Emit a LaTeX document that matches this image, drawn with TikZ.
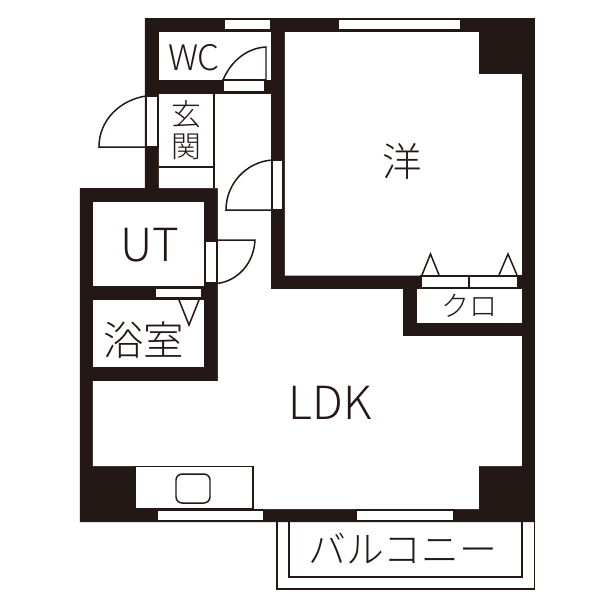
\documentclass[tikz,border=0pt]{standalone}
\usepackage{fontspec}
\setmainfont{Noto Sans CJK JP}[UprightFont=* Light]
\definecolor{ink}{HTML}{231815}
\tikzset{
  wall/.style={fill=ink,draw=none},
  room/.style={fill=white,draw=none},
  pane/.style={fill=white,draw=ink,line width=0.6pt},
  thin/.style={draw=ink,line width=0.85pt},
  label/.style={text=ink,inner sep=0pt}
}
\begin{document}
\begin{tikzpicture}[x=0.02cm,y=-0.02cm]
  \useasboundingbox (0,0) rectangle (600,600);
  % balcony
  \draw[thin] (277,522) -- (277,589) -- (534.5,589) -- (534.5,522);
  \draw[thin] (289,522) -- (289,577) -- (522,577) -- (522,522);
  % walls and rooms
  \fill[wall] (145,18) -- (535,18) -- (535,522) -- (80,522) -- (80,188) -- (145,188) -- cycle;
  \fill[room] (159,32) rectangle (271,80);
  \fill[room] (285,32) -- (479,32) -- (479,74) -- (522,74) -- (522,275.5) -- (285,275.5) -- cycle;
  \fill[room] (417,289) rectangle (522,322.5);
  \fill[room] (93,202) rectangle (204,286);
  \fill[room] (93,300) rectangle (204,367);
  \fill[room] (159,94) -- (271,94) -- (271,289) -- (403,289) -- (403,336) -- (522,336)
    -- (522,466) -- (479,466) -- (479,509) -- (135,509) -- (135,466) -- (93,466)
    -- (93,381) -- (218,381) -- (218,188) -- (159,188) -- cycle;
  % windows
  \draw[pane] (224,19) rectangle (271,30);
  \draw[pane] (338,19) rectangle (461,30);
  \draw[pane] (157,510) rectangle (264,521);
  \draw[pane] (356,510) rectangle (454,521);
  % entrance
  \draw[thin] (159,93.5) -- (271,93.5);
  \draw[thin] (214,94) -- (214,188);
  \draw[thin] (159,167) -- (214,167);
  % doors
  \draw[pane] (146,96) rectangle (158,147);
  \draw[thin] (146,96) .. controls (120,100) and (99,120) .. (99,147) -- (146,147);
  \draw[pane] (223,80) rectangle (265,92);
  \draw[thin] (223,80) .. controls (231,61) and (247,48) .. (266,47) -- (266,80);
  \draw[pane] (272,160) rectangle (283,209.5);
  \draw[thin] (272,160) .. controls (246,162) and (226,184) .. (226,210) -- (272,210);
  \draw[pane] (205,241) rectangle (217,283);
  \draw[thin] (217,240) -- (255,240) .. controls (254,263) and (238,281) .. (217,283.5);
  \draw[pane] (155,288) rectangle (202,298);
  \draw[thin] (179,300) -- (189,325) -- (199,300);
  % closet
  \draw[pane] (421,276) rectangle (518,288);
  \draw[thin] (469,276) -- (469,288);
  \draw[thin] (421,275.5) -- (522,275.5);
  \draw[thin] (422,275) -- (430.5,254) -- (439,275);
  \draw[thin] (499,275) -- (508,254) -- (517,275);
  % kitchen
  \draw[pane] (135,466.5) rectangle (253,509);
  \draw[thin,rounded corners=3.5pt] (176,474) rectangle (210,503);
  % labels
  \node[label,font=\fontsize{20}{20}\selectfont] (wc) at (194,58) {WC};
  \node[label,font=\fontsize{17}{17}\selectfont] (genkan1) at (186,114) {玄};
  \node[label,font=\fontsize{17}{17}\selectfont] (genkan2) at (186,147) {関};
  \node[label,font=\fontsize{22.5}{22.5}\selectfont] (yo) at (402,161) {洋};
  \node[label,font=\fontsize{26}{26}\selectfont] (ut) at (150,245) {UT};
  \node[label,font=\fontsize{23}{23}\selectfont] (bath) at (144,340) {浴室};
  \node[label,font=\fontsize{26}{26}\selectfont] (ldk) at (330,403) {LDK};
  \node[label,font=\fontsize{16}{16}\selectfont] (clo) at (470,306) {クロ};
  \node[label,font=\fontsize{21.5}{21.5}\selectfont] (balcony) at (403,549) {バルコニー};
\end{tikzpicture}
\end{document}
